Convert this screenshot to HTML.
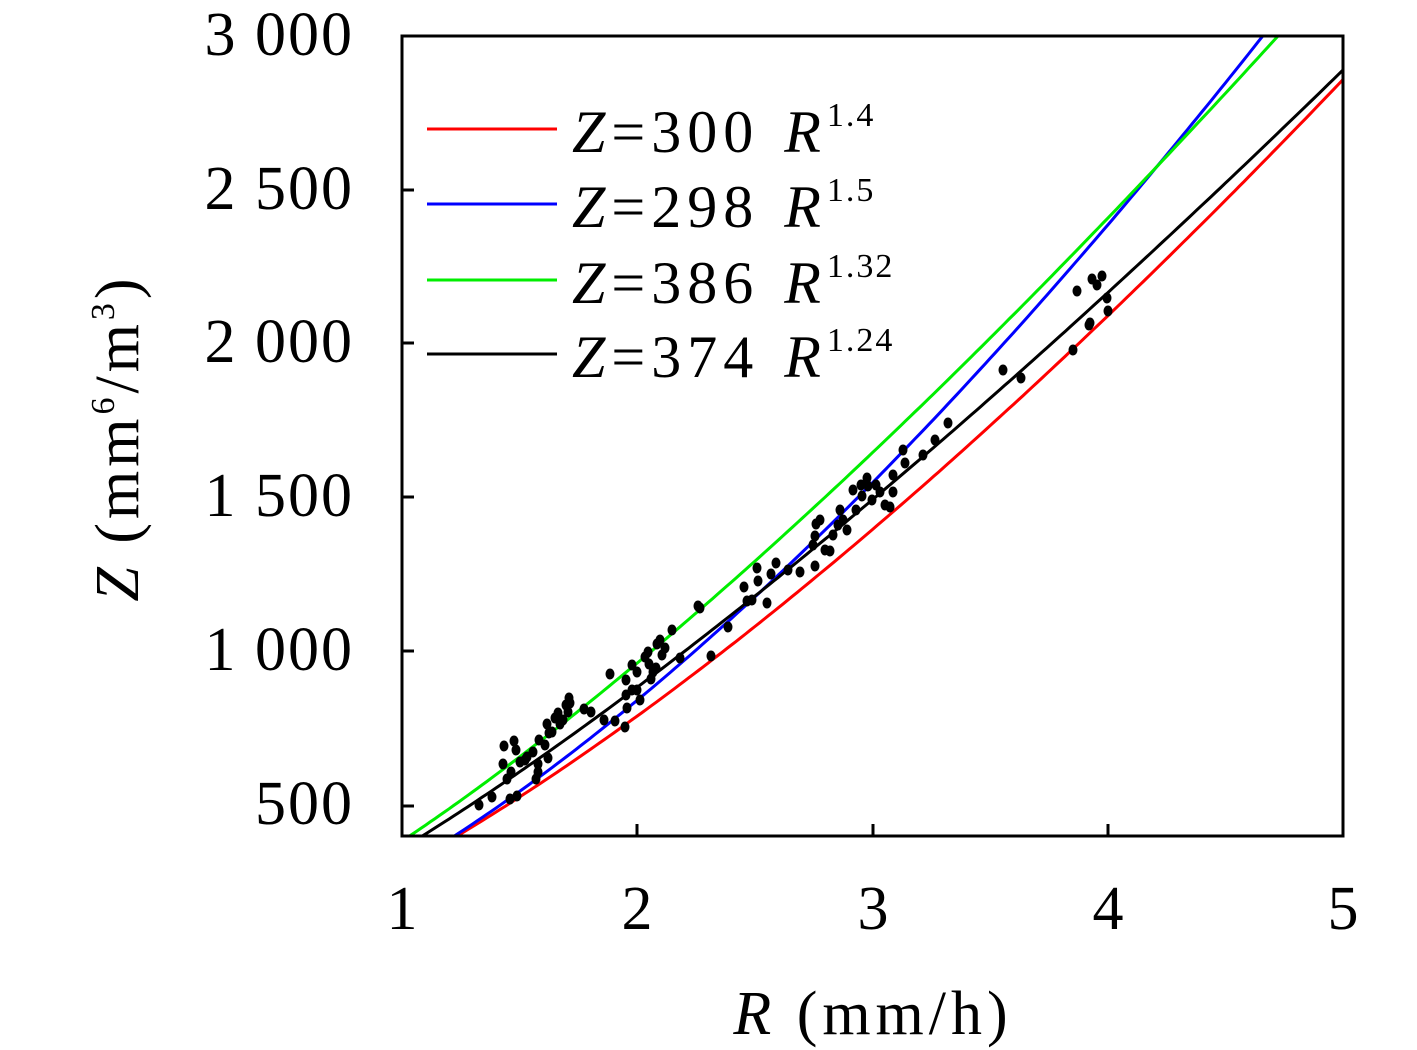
<!DOCTYPE html>
<html><head><meta charset="utf-8"><style>
html,body{margin:0;padding:0;background:#fff;}
svg{display:block;}
text{font-family:"Liberation Serif",serif;fill:#000;}
</style></head><body>
<svg id="s" width="1417" height="1050" viewBox="0 0 1417 1050" xmlns="http://www.w3.org/2000/svg">
<defs><clipPath id="c"><rect x="402" y="36" width="941" height="800"/></clipPath></defs>
<g id="curves" clip-path="url(#c)"></g>
<g id="pts" clip-path="url(#c)"></g>
<rect x="402" y="36" width="941" height="800" fill="none" stroke="#000" stroke-width="3"/>
<g stroke="#000" stroke-width="3">
<line x1="402" y1="806" x2="414" y2="806"/><line x1="402" y1="651" x2="414" y2="651"/>
<line x1="402" y1="497" x2="414" y2="497"/><line x1="402" y1="343" x2="414" y2="343"/>
<line x1="402" y1="190" x2="414" y2="190"/>
<line x1="637" y1="836" x2="637" y2="824"/><line x1="873" y1="836" x2="873" y2="824"/>
<line x1="1108" y1="836" x2="1108" y2="824"/>
</g>
<g font-size="62" text-anchor="end" letter-spacing="2">
<text x="354" y="55">3 000</text><text x="354" y="209">2 500</text>
<text x="354" y="362">2 000</text><text x="354" y="516">1 500</text>
<text x="354" y="670">1 000</text><text x="354" y="824">500</text>
</g>
<g font-size="62" text-anchor="middle">
<text x="402" y="929">1</text><text x="637" y="929">2</text><text x="873" y="929">3</text>
<text x="1108" y="929">4</text><text x="1343" y="929">5</text>
<text x="873" y="1034" letter-spacing="5"><tspan font-style="italic">R</tspan> (mm/h)</text>
</g>
<text font-size="62" text-anchor="middle" letter-spacing="4" transform="translate(138,438) rotate(-90)"><tspan font-style="italic">Z</tspan> (mm<tspan font-size="34" dy="-24">6</tspan><tspan dy="24">/m</tspan><tspan font-size="34" dy="-24">3</tspan><tspan dy="24">)</tspan></text>
<g stroke-width="3">
<line x1="427" y1="129" x2="557" y2="129" stroke="#ff0000"/>
<line x1="427" y1="204" x2="557" y2="204" stroke="#0000ff"/>
<line x1="427" y1="280" x2="557" y2="280" stroke="#00ee00"/>
<line x1="427" y1="354" x2="557" y2="354" stroke="#000"/>
</g>
<g font-size="60" letter-spacing="6">
<text x="572" y="152"><tspan font-style="italic">Z</tspan>=300 <tspan font-style="italic" dx="4">R</tspan><tspan font-size="34" dy="-26" letter-spacing="2">1.4</tspan></text>
<text x="572" y="227"><tspan font-style="italic">Z</tspan>=298 <tspan font-style="italic" dx="4">R</tspan><tspan font-size="34" dy="-26" letter-spacing="2">1.5</tspan></text>
<text x="572" y="303"><tspan font-style="italic">Z</tspan>=386 <tspan font-style="italic" dx="4">R</tspan><tspan font-size="34" dy="-26" letter-spacing="2">1.32</tspan></text>
<text x="572" y="377"><tspan font-style="italic">Z</tspan>=374 <tspan font-style="italic" dx="4">R</tspan><tspan font-size="34" dy="-26" letter-spacing="2">1.24</tspan></text>
</g>
</svg>
<script>
var NS="http://www.w3.org/2000/svg";
function X(r){return 402+(r-1)*235.25;}
function Y(z){return 806-(z-500)*0.3084;}
var cs=[[300,1.4,"#ff0000"],[298,1.5,"#0000ff"],[386,1.32,"#00ee00"],[362,1.29,"#000"]];
var g=document.getElementById("curves");
cs.forEach(function(c){var d="";for(var r=1;r<=5.0001;r+=0.02){d+=(d?"L":"M")+X(r).toFixed(1)+","+Y(c[0]*Math.pow(r,c[1])).toFixed(1);}
var p=document.createElementNS(NS,"path");p.setAttribute("d",d);p.setAttribute("fill","none");p.setAttribute("stroke",c[2]);p.setAttribute("stroke-width","3");g.appendChild(p);});
var P=[[479,805],[492,797],[510,799],[517,796],[503,764],[507,779],[511,772],[504,746],[514,741],[516,750],[520,762],[525,760],[527,757],[533,752],[536,779],[538,772],[538,764],[539,740],[545,745],[548,758],[547,724],[549,733],[552,732],[555,718],[558,713],[560,724],[563,720],[566,705],[568,712],[570,703],[569,698],[584,709],[591,712],[604,720],[610,674],[615,721],[625,727],[626,680],[627,708],[626,695],[632,690],[632,665],[637,672],[640,700],[637,690],[645,657],[648,652],[649,664],[651,679],[653,672],[656,668],[657,644],[660,640],[662,655],[665,648],[672,630],[680,658],[700,608],[711,656],[728,627],[744,587],[747,601],[752,600],[757,568],[758,581],[767,603],[771,574],[776,563],[788,570],[800,572],[815,566],[813,545],[815,536],[816,524],[820,520],[825,550],[830,551],[833,535],[838,525],[840,510],[843,520],[847,530],[853,490],[856,510],[861,485],[867,478],[862,496],[872,500],[876,485],[880,492],[885,505],[890,507],[893,492],[893,475],[903,450],[905,463],[923,455],[935,440],[948,423],[1003,370],[1021,378],[1073,350],[1077,291],[1089,325],[1092,279],[1097,285],[1090,323],[1102,276],[1107,298],[1108,311],[698,606],[868,486]];
var pg=document.getElementById("pts");
P.forEach(function(p){var e=document.createElementNS(NS,"ellipse");e.setAttribute("cx",p[0]);e.setAttribute("cy",p[1]);e.setAttribute("rx","4.5");e.setAttribute("ry","5.5");pg.appendChild(e);});
</script>
</body></html>
